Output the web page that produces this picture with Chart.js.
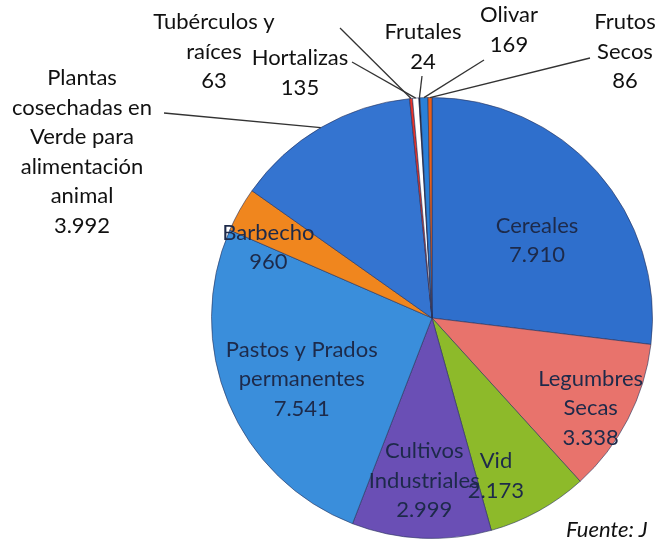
<!DOCTYPE html>
<html>
<head>
<meta charset="utf-8">
<script src="https://cdn.jsdelivr.net/npm/chart.js@4"></script>
<style>
  html, body { margin: 0; padding: 0; background: #fff; }
  #wrap { position: relative; width: 657px; height: 541px; }
  #fuente { position: absolute; left: 566px; top: 515px; font: italic 22px Lato, sans-serif; color: #111; white-space: nowrap; }
</style>
</head>
<body>
<div id="wrap">
  <canvas id="pieChart" width="657" height="541"></canvas>
  <div id="fuente">Fuente: J</div>
</div>
<script>
// superficie por grupo de cultivo (miles de ha)
const categories = ['Cereales', 'Legumbres Secas', 'Vid', 'Cultivos Industriales',
    'Pastos y Prados permanentes', 'Barbecho',
    'Plantas cosechadas en Verde para alimentación animal',
    'Tubérculos y raíces', 'Hortalizas', 'Frutales', 'Olivar', 'Frutos Secos'];
const values = [7910, 3338, 2173, 2999, 7541, 960, 3992, 63, 135, 24, 169, 86];
const valueLabels = ['7.910', '3.338', '2.173', '2.999', '7.541', '960', '3.992', '63', '135', '24', '169', '86'];
const sliceColors = ['#2f6fcc', '#e8736c', '#8dba2a', '#6a4fb5', '#3a8edb', '#f0861e',
    '#3474d0', '#e8322a', '#ffffff', '#111111', '#2a80d8', '#e8601c'];

// how each label is broken into lines (last line is the value)
const labelLines = [
    ['Cereales'], ['Legumbres', 'Secas'], ['Vid'], ['Cultivos', 'Industriales'],
    ['Pastos y Prados', 'permanentes'], ['Barbecho'],
    ['Plantas', 'cosechadas en', 'Verde para', 'alimentación', 'animal'],
    ['Tubérculos y', 'raíces'], ['Hortalizas'], ['Frutales'], ['Olivar'], ['Frutos', 'Secos']
];

// label placement: inside labels by radius fraction, outside ones by text box + leader start
const insideRadius = [0.6, 0.81, 0.75, 0.73, 0.65, 0.81];
const insideShift = [[6, 10], [0, 8], [-16, 13], [0, 2], [2, 6], [-8, 17]];
const outsideBox = {
    6: { x: 82, y: 78, lead: [164, 113] },
    7: { x: 214, y: 22, lead: [340, 28] },
    8: { x: 300, y: 58, lead: [352, 62] },
    9: { x: 423, y: 32, lead: [422, 76] },
    10: { x: 509, y: 15, lead: [484, 60] },
    11: { x: 625, y: 22, lead: [590, 58] }
};
const lineH = 29.5;

const sliceLabels = {
    id: 'sliceLabels',
    afterDatasetsDraw(chart) {
        const c = chart.ctx;
        const arcs = chart.getDatasetMeta(0).data;
        c.save();
        c.font = '22px Lato, sans-serif';
        c.textAlign = 'center';
        c.textBaseline = 'middle';
        arcs.forEach((arc, i) => {
            const lines = labelLines[i].concat([valueLabels[i]]);
            const mid = (arc.startAngle + arc.endAngle) / 2;
            if (i < insideRadius.length) {
                const r = arc.outerRadius * insideRadius[i];
                const cx = arc.x + Math.cos(mid) * r + insideShift[i][0];
                const cy = arc.y + Math.sin(mid) * r + insideShift[i][1];
                const top = cy - (lines.length - 1) * lineH / 2;
                c.fillStyle = '#1d2a4a';
                lines.forEach((t, k) => c.fillText(t, cx, top + k * lineH));
            } else {
                const box = outsideBox[i];
                c.fillStyle = '#111';
                lines.forEach((t, k) => c.fillText(t, box.x, box.y + k * lineH));
                const ex = arc.x + Math.cos(mid) * arc.outerRadius;
                const ey = arc.y + Math.sin(mid) * arc.outerRadius;
                c.strokeStyle = '#333';
                c.lineWidth = 1.3;
                c.beginPath();
                c.moveTo(box.lead[0], box.lead[1]);
                c.lineTo(ex, ey);
                c.stroke();
            }
        });
        c.restore();
    }
};

const ctx = document.getElementById('pieChart').getContext('2d');
const pieChart = new Chart(ctx, {
    type: 'pie',
    data: {
        labels: categories,
        datasets: [{
            data: values,
            backgroundColor: sliceColors,
            borderColor: 'rgba(40, 50, 90, 0.6)',
            borderWidth: 1
        }]
    },
    options: {
        responsive: false,
        animation: false,
        rotation: 0,
        layout: { padding: { left: 211, right: 4, top: 97, bottom: 2 } },
        plugins: {
            legend: { display: false },
            tooltip: { enabled: false }
        }
    },
    plugins: [sliceLabels]
});
</script>
</body>
</html>
